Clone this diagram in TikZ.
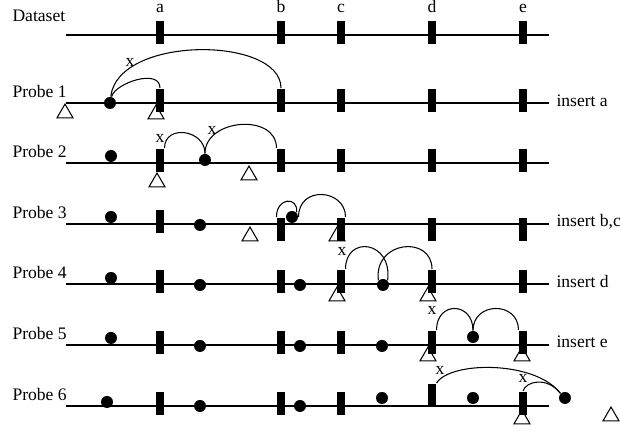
\documentclass[tikz,border=0pt]{standalone}
\usepackage{fontspec}
\setmainfont{Liberation Serif}
\usepackage{tikz}
\usetikzlibrary{shapes.geometric}

\tikzset{
  keybar/.style={rectangle, fill=black, minimum width=0.16cm, minimum height=0.46cm, inner sep=0pt, anchor=north},
  itemdot/.style={circle, fill=black, minimum size=0.24cm, inner sep=0pt},
  slottri/.style={regular polygon, regular polygon sides=3, draw, fill=white, minimum size=0.37cm, inner sep=0pt, anchor=corner 1},
  rowlabel/.style={anchor=west, inner sep=0pt},
  keyname/.style={anchor=base, inner sep=0pt},
}

\begin{document}
\begin{tikzpicture}[x=0.02cm, y=-0.02cm, line width=0.6pt]
  \useasboundingbox (0,0) rectangle (620,431);

  % dataset
  \node[rowlabel] (ds) at (12,16) {Dataset};
  \draw (66,35) -- (549,35);
  \node[keybar] (a0) at (160,20) {};
  \node[keybar] (b0) at (281,20) {};
  \node[keybar] (c0) at (341,20) {};
  \node[keybar] (d0) at (432,20) {};
  \node[keybar] (e0) at (523,20) {};
  \node[keyname] (la) at (160,13) {a};
  \node[keyname] (lb) at (281,13) {b};
  \node[keyname] (lc) at (341,13) {c};
  \node[keyname] (ld) at (432,13) {d};
  \node[keyname] (le) at (523,13) {e};

  % probe 1
  \node[rowlabel] (p1) at (12,91) {Probe 1};
  \draw (66,103) -- (549,103);
  \node[slottri] (t11) at (65,103) {};
  \node[slottri] (t12) at (156,104) {};
  \node[keybar] (a1) at (160,88) {};
  \node[keybar] (b1) at (281,88) {};
  \node[keybar] (c1) at (341,88) {};
  \node[keybar] (d1) at (432,88) {};
  \node[keybar] (e1) at (523,88) {};
  \node[itemdot] (o11) at (110,103) {};
  \node[rowlabel] (n1) at (556,101) {insert a};
  \draw (o11) .. controls +(5,-20) and +(0,-20) .. (a1.north);
  \draw (o11) .. controls +(8,-68) and +(0,-52) .. (b1.north);
  \node (x1) at (130,62) {x};

  % probe 2
  \node[rowlabel] (p2) at (12,151) {Probe 2};
  \draw (66,163) -- (549,163);
  \node[slottri] (t21) at (157,172) {};
  \node[slottri] (t22) at (249,165) {};
  \node[keybar] (a2) at (160,148) {};
  \node[keybar] (b2) at (281,148) {};
  \node[keybar] (c2) at (341,148) {};
  \node[keybar] (d2) at (432,148) {};
  \node[keybar] (e2) at (523,148) {};
  \node[itemdot] (o21) at (111,156) {};
  \node[itemdot] (o22) at (205,160) {};
  \draw (a2.north east) .. controls +(0,-24) and +(0,-24) .. (o22.north);
  \draw (o22.north) .. controls +(0,-35) and +(0,-35) .. (b2.north west);
  \node (x21) at (160,138) {x};
  \node (x22) at (212,130) {x};

  % probe 3
  \node[rowlabel] (p3) at (12,212) {Probe 3};
  \draw (66,224) -- (549,224);
  \node[slottri] (t31) at (250,226) {};
  \node[slottri] (t32) at (337,226) {};
  \node[keybar] (a3) at (160,209) {};
  \node[keybar] (b3) at (281,217) {};
  \node[keybar] (c3) at (341,217) {};
  \node[keybar] (d3) at (432,217) {};
  \node[keybar] (e3) at (523,217) {};
  \node[itemdot] (o31) at (111,217) {};
  \node[itemdot] (o32) at (200,225) {};
  \node[itemdot] (o33) at (292,217) {};
  \node[rowlabel] (n3) at (556,222) {insert b,c};
  \draw (b3.north west) .. controls +(0,-20) and +(2,-16) .. (o33.north east);
  \draw (o33.east) .. controls +(0,-32) and +(0,-28) .. (c3.north east);

  % probe 4
  \node[rowlabel] (p4) at (12,272) {Probe 4};
  \draw (66,284) -- (549,284);
  \node[slottri] (t41) at (337,286) {};
  \node[slottri] (t42) at (428,286) {};
  \node[keybar] (a4) at (160,269) {};
  \node[keybar] (b4) at (281,269) {};
  \node[keybar] (c4) at (341,269) {};
  \node[keybar] (d4) at (432,269) {};
  \node[keybar] (e4) at (523,269) {};
  \node[itemdot] (o41) at (111,278) {};
  \node[itemdot] (o42) at (200,285) {};
  \node[itemdot] (o43) at (300,285) {};
  \node[itemdot] (o44) at (383,285) {};
  \node[rowlabel] (n4) at (556,281) {insert d};
  \draw (c4.north east) .. controls +(0,-34) and +(5,-40) .. (o44.north east);
  \draw (o44.north west) .. controls +(-5,-40) and +(0,-34) .. (d4.north);
  \node (x4) at (342,251) {x};

  % probe 5
  \node[rowlabel] (p5) at (12,333) {Probe 5};
  \draw (66,345) -- (549,345);
  \node[slottri] (t51) at (428,346) {};
  \node[slottri] (t52) at (522,346) {};
  \node[keybar] (a5) at (160,330) {};
  \node[keybar] (b5) at (281,330) {};
  \node[keybar] (c5) at (341,330) {};
  \node[keybar] (d5) at (432,330) {};
  \node[keybar] (e5) at (523,330) {};
  \node[itemdot] (o51) at (111,338) {};
  \node[itemdot] (o52) at (200,346) {};
  \node[itemdot] (o53) at (300,346) {};
  \node[itemdot] (o54) at (382,346) {};
  \node[itemdot] (o55) at (473,337) {};
  \node[rowlabel] (n5) at (556,342) {insert e};
  \draw (d5.north east) .. controls +(0,-29) and +(0,-29) .. (o55.north);
  \draw (o55.north) .. controls +(0,-29) and +(0,-29) .. (e5.north west);
  \node (x5) at (432,310) {x};

  % probe 6
  \node[rowlabel] (p6) at (12,394) {Probe 6};
  \draw (66,406) -- (549,406);
  \node[slottri] (t61) at (522,409) {};
  \node[slottri] (t62) at (611,406) {};
  \node[keybar] (a6) at (160,391) {};
  \node[keybar] (b6) at (281,391) {};
  \node[keybar] (c6) at (341,391) {};
  \node[keybar] (d6) at (432,383) {};
  \node[keybar] (e6) at (523,391) {};
  \node[itemdot] (o61) at (107,402) {};
  \node[itemdot] (o62) at (200,406) {};
  \node[itemdot] (o63) at (300,406) {};
  \node[itemdot] (o64) at (382,398) {};
  \node[itemdot] (o65) at (473,398) {};
  \node[itemdot] (o66) at (565,398) {};
  \draw (d6.north east) .. controls +(14,-22) and +(-25,-33) .. (o66.north west);
  \draw (e6.north) .. controls +(3,-10) and +(-13,-17) .. (o66.north west);
  \node (x61) at (440,370) {x};
  \node (x62) at (523,378) {x};
\end{tikzpicture}
\end{document}
